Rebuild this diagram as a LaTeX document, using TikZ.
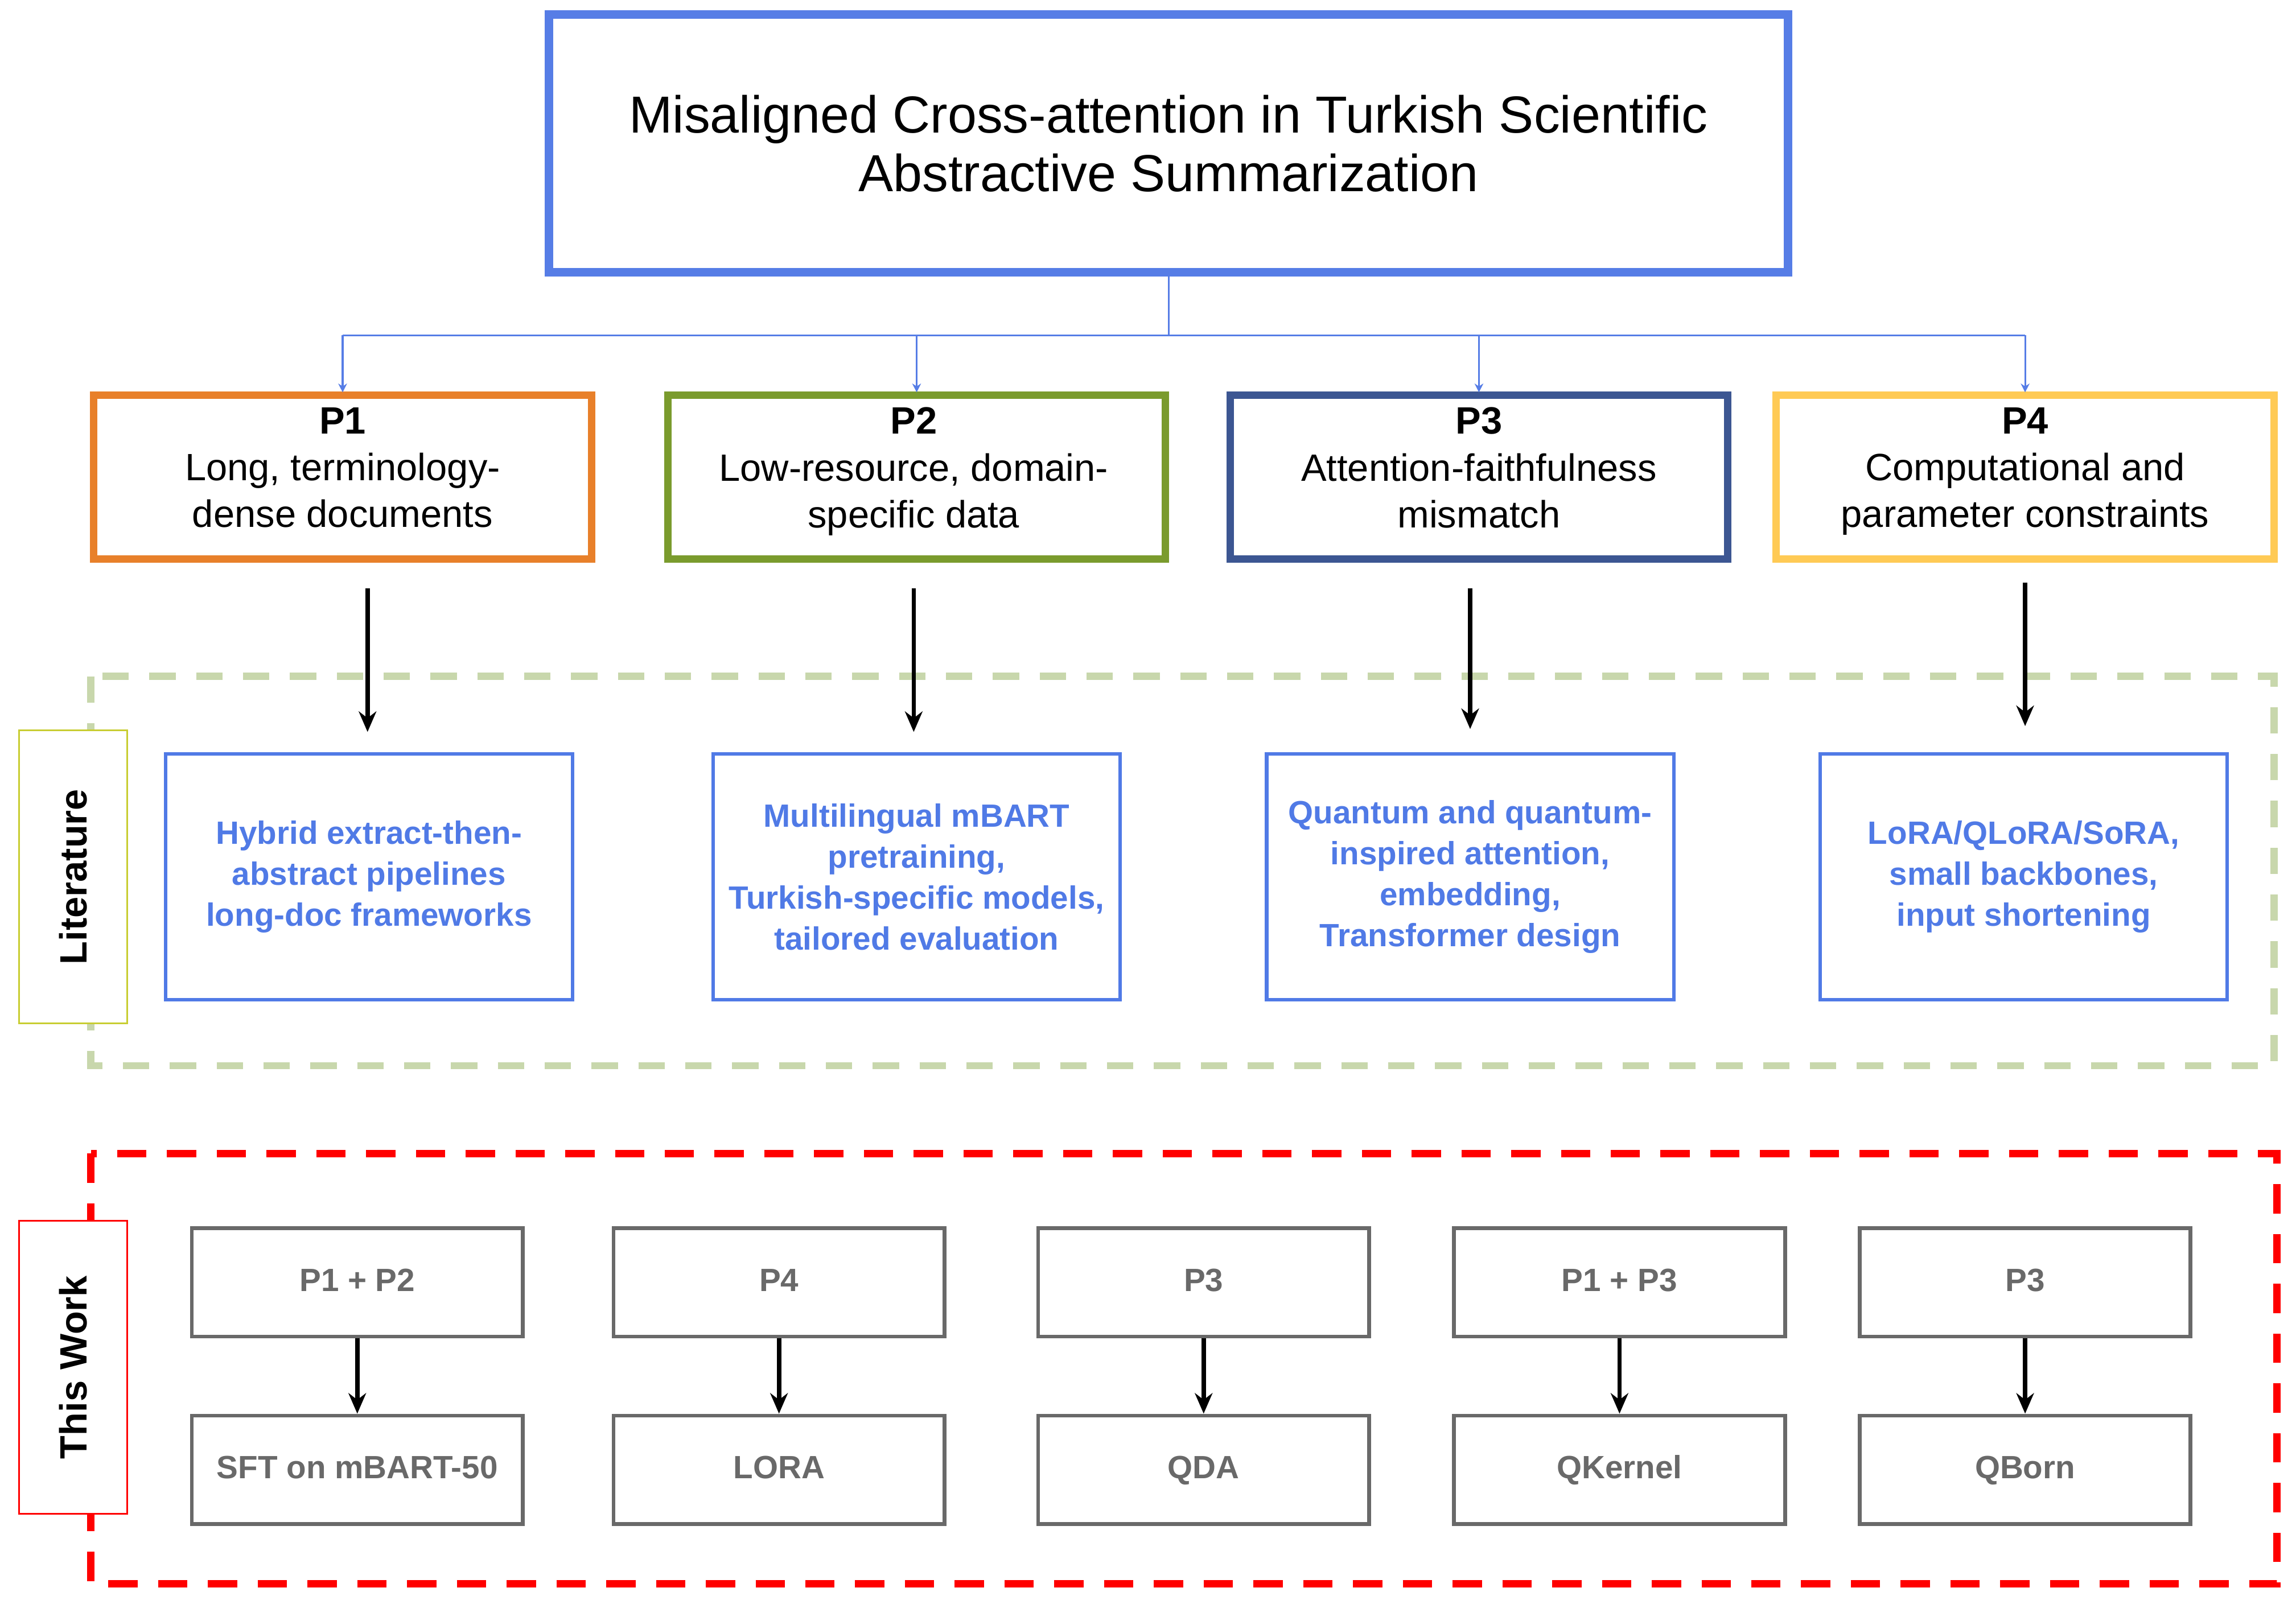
\documentclass[tikz,border=0pt]{standalone}
\usepackage{fontspec}
\setmainfont{Liberation Sans}
\usetikzlibrary{arrows.meta}
\definecolor{tblue}{RGB}{86,125,230}
\definecolor{porange}{RGB}{232,128,42}
\definecolor{pgreen}{RGB}{122,155,45}
\definecolor{pdblue}{RGB}{60,86,146}
\definecolor{pyellow}{RGB}{255,202,85}
\definecolor{litblue}{RGB}{80,122,230}
\definecolor{dgreen}{RGB}{200,215,172}
\definecolor{olive}{RGB}{200,205,50}
\definecolor{tgray}{RGB}{105,105,105}
\begin{document}
\begin{tikzpicture}[x=0.5pt,y=-0.5pt,
 pbox/.style={draw,line width=2.5pt,minimum width=170pt,minimum height=56pt,inner sep=0pt},
 ptext/.style={anchor=north,align=center,font=\fontsize{13}{16}\selectfont,inner sep=0pt},
 lbox/.style={draw=litblue,line width=1.2pt,minimum width=139pt,minimum height=84pt,align=center,text=litblue,font=\bfseries\fontsize{11}{14}\selectfont,inner sep=0pt},
 gbox/.style={draw=tgray,line width=1.3pt,minimum width=113pt,minimum height=37pt,text=tgray,font=\bfseries\fontsize{11}{13}\selectfont,inner sep=0pt,text height=8pt,text depth=2pt},
 barr/.style={-{Stealth[length=7pt,width=6pt]},line width=1.5pt},
 thin/.style={draw=tblue,line width=0.6pt,-{Stealth[length=3pt,width=3pt]}},
 side/.style={draw,fill=white,line width=0.6pt,minimum width=37pt,minimum height=100pt,inner sep=0pt}]
\useasboundingbox (0,0) rectangle (1568,1093);
\node[draw=tblue,line width=3pt,minimum width=423pt,minimum height=88pt,align=center,font=\fontsize{17.8}{20}\selectfont] (t) at (798,98) {Misaligned Cross-attention in Turkish Scientific\\Abstractive Summarization};
\node[pbox,draw=porange] (p1) at (234,326) {};
\node[pbox,draw=pgreen] (p2) at (626,326) {};
\node[pbox,draw=pdblue] (p3) at (1010,326) {};
\node[pbox,draw=pyellow] (p4) at (1383,326) {};
\node[ptext] (p1t) at (234,278) {\textbf{P1}\\Long, terminology-\\dense documents};
\node[ptext] (p2t) at (624,278) {\textbf{P2}\\Low-resource, domain-\\specific data};
\node[ptext] (p3t) at (1010,278) {\textbf{P3}\\Attention-faithfulness\\mismatch};
\node[ptext] (p4t) at (1383,278) {\textbf{P4}\\Computational and\\parameter constraints};
\coordinate (h) at (798,229);
\draw[tblue,line width=0.6pt] (t.south) -- (h);
\draw[tblue,line width=0.6pt] (234,229) -- (1383,229);
\foreach \p/\x in {p1/234,p2/626,p3/1010,p4/1383} \draw[thin] (\x,229) -- (\x,268);
% literature
\draw[dgreen,line width=2.5pt,dash pattern=on 9pt off 7pt] (62,462) rectangle (1553,728);
\node[side,draw=olive] (lit) at (50,599) {};
\node[rotate=90,font=\bfseries\fontsize{13}{15}\selectfont] (litt) at (lit) {Literature};
\node[lbox] (l1) at (252,599) {Hybrid extract-then-\\abstract pipelines\\long-doc frameworks};
\node[lbox] (l2) at (626,599) {Multilingual mBART\\pretraining,\\Turkish-specific models,\\tailored evaluation};
\node[lbox] (l3) at (1004,599) {Quantum and quantum-\\inspired attention,\\embedding,\\Transformer design};
\node[lbox] (l4) at (1382,599) {LoRA/QLoRA/SoRA,\\small backbones,\\input shortening};
\draw[barr] (251,402) -- (251,500);
\draw[barr] (624,402) -- (624,500);
\draw[barr] (1004,402) -- (1004,498);
\draw[barr] (1383,398) -- (1383,496);
% this work
\draw[red,line width=2.5pt,dash pattern=on 10pt off 7pt] (62,788) rectangle (1555,1082);
\node[side,draw=red] (tw) at (50,934) {};
\node[rotate=90,font=\bfseries\fontsize{13}{15}\selectfont] (twt) at (tw) {This Work};
\foreach \n/\x/\a/\b in {a/244/P1 + P2/SFT on mBART-50,b/532/P4/LORA,c/822/P3/QDA,d/1106/P1 + P3/QKernel,e/1383/P3/QBorn}{
 \node[gbox] (\n1) at (\x,876) {\a};
 \node[gbox] (\n2) at (\x,1004) {\b};
 \draw[barr] (\n1) -- (\n2);
}
\end{tikzpicture}
\end{document}
